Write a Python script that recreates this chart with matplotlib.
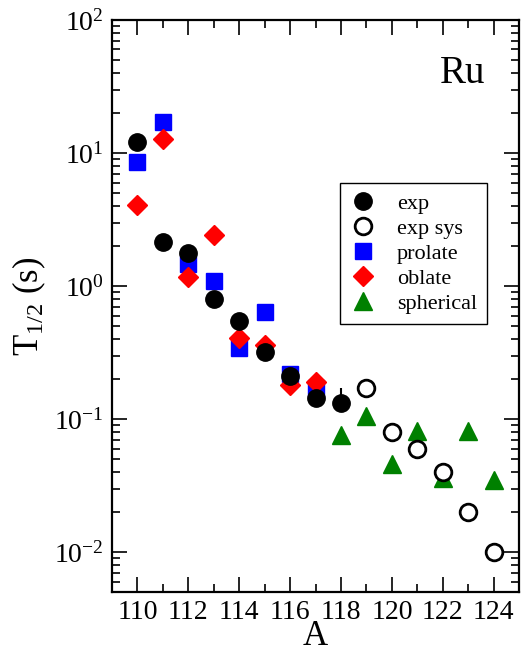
import matplotlib
matplotlib.use('Agg')
import matplotlib.pyplot as plt
from matplotlib.ticker import LogLocator, MultipleLocator, NullFormatter

plt.rcParams['font.family'] = ['Liberation Serif', 'DejaVu Serif']
plt.rcParams['mathtext.fontset'] = 'custom'
plt.rcParams['mathtext.rm'] = 'Liberation Serif'
plt.rcParams['mathtext.it'] = 'Liberation Serif:italic'

# half-lives of Ru isotopes (seconds)
A_exp = [110, 111, 112, 113, 114, 115, 116, 117, 118]
T_exp = [12.0, 2.13, 1.76, 0.80, 0.546, 0.32, 0.21, 0.143, 0.131]
T_exp_err_up = [0, 0, 0, 0, 0, 0, 0, 0, 0.04]

A_sys = [119, 120, 121, 122, 123, 124]
T_sys = [0.17, 0.080, 0.060, 0.040, 0.020, 0.010]

A_prolate = [110, 111, 112, 113, 114, 115, 116, 117]
T_prolate = [8.5, 17.1, 1.46, 1.1, 0.34, 0.634, 0.22, 0.17]

A_oblate = [110, 111, 112, 113, 114, 115, 116, 117]
T_oblate = [4.1, 12.7, 1.16, 2.43, 0.404, 0.36, 0.18, 0.19]

A_sph = [118, 119, 120, 121, 122, 123, 124]
T_sph = [0.076, 0.105, 0.046, 0.081, 0.036, 0.081, 0.035]

fig = plt.figure(figsize=(5.27, 6.55), dpi=100)
ax = fig.add_axes([0.2125, 0.0962, 0.7725, 0.8733])

h_pro, = ax.plot(A_prolate, T_prolate, 's', color='blue', ms=11.5, mec='blue', ls='none')
h_obl, = ax.plot(A_oblate, T_oblate, 'D', color='red', ms=10, mec='red', ls='none')
h_sph, = ax.plot(A_sph, T_sph, '^', color='green', ms=13, mec='green', ls='none')
ax.errorbar(A_exp, T_exp, yerr=[[0] * len(A_exp), T_exp_err_up], fmt='none',
            ecolor='black', elinewidth=1.5, capsize=0)
h_exp, = ax.plot(A_exp, T_exp, 'o', color='black', ms=12.5, ls='none')
h_sys, = ax.plot(A_sys, T_sys, 'o', mfc='white', mec='black', mew=2, ms=12, ls='none')

ax.set_yscale('log')
ax.set_xlim(109, 125)
ax.set_ylim(10 ** -2.3, 100)

ax.xaxis.set_major_locator(MultipleLocator(2))
ax.xaxis.set_minor_locator(MultipleLocator(1))
ax.yaxis.set_major_locator(LogLocator(base=10, numticks=10))
ax.yaxis.set_minor_locator(LogLocator(base=10, subs=range(2, 10), numticks=20))
ax.yaxis.set_minor_formatter(NullFormatter())

ax.tick_params(which='both', direction='in', top=True, right=True, width=1.2)
ax.tick_params(which='major', length=11, labelsize=20, pad=6)
ax.tick_params(which='minor', length=6)
for s in ax.spines.values():
    s.set_linewidth(1.6)

ax.set_xlabel('A', fontsize=25, labelpad=-4)
ax.set_ylabel('T$_{1/2}$ (s)', fontsize=25, labelpad=4)

ax.text(0.86, 0.907, 'Ru', transform=ax.transAxes, fontsize=28,
        ha='center', va='center')

leg = ax.legend([h_exp, h_sys, h_pro, h_obl, h_sph],
                ['exp', 'exp sys', 'prolate', 'oblate', 'spherical'],
                loc='upper left', bbox_to_anchor=(0.533, 0.734), fontsize=16,
                frameon=True, fancybox=False, edgecolor='black', framealpha=1,
                labelspacing=0.2, handletextpad=0.9, borderpad=0.45,
                handlelength=1.2, markerscale=1.0)
leg.get_frame().set_linewidth(1.0)

plt.savefig('out.png', dpi=100)
